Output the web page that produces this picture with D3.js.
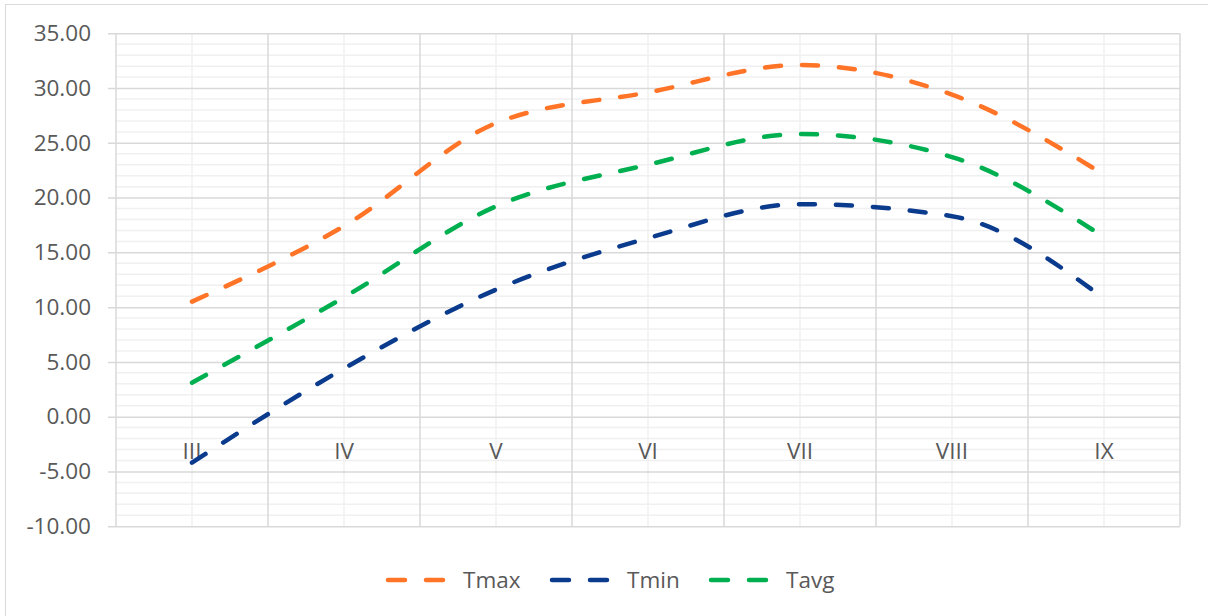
<!DOCTYPE html>
<html><head><meta charset="utf-8">
<script src="https://cdn.jsdelivr.net/npm/d3@7"></script>
<style>body{margin:0;background:#fff}svg{display:block}</style>
</head><body>
<svg id="c" width="1208" height="616"></svg>
<script>
const categories = ["III","IV","V","VI","VII","VIII","IX"];
const tmax = [10.5, 17.4, 26.8, 29.6, 32.1, 29.4, 22.1];
const tmin = [-4.2, 4.4, 11.6, 16.3, 19.4, 18.3, 10.8];
const tavg = [3.1, 10.9, 19.2, 23.0, 25.8, 23.7, 16.4];
const seriesNames = ["Tmax","Tmin","Tavg"];
const seriesColors = ["#FF7427","#0B3B8C","#00B050"];
const yTicks = [-10,-5,0,5,10,15,20,25,30,35];

const svg = d3.select("#c");
const font = "'Open Sans', sans-serif";
const fs = "22.5px";
const L = 116, R = 1180, T = 33.3, B = 526.2;

svg.append("rect").attr("x",5.5).attr("y",4.5).attr("width",1210).attr("height",620)
  .attr("fill","#fff").attr("stroke","#d9d9d9");

const x = d3.scaleBand().domain(categories).range([L,R]).padding(0);
const y = d3.scaleLinear().domain([-10,35]).range([B,T]);

const minor = d3.range(-10,36,1).filter(v=>v%5!==0);
svg.append("g").selectAll("line").data(minor).join("line")
  .attr("x1",L).attr("x2",R).attr("y1",d=>y(d)).attr("y2",d=>y(d))
  .attr("stroke","#f0f0f0").attr("stroke-width",1.5);
svg.append("g").selectAll("line").data(categories).join("line")
  .attr("x1",d=>x(d)+x.bandwidth()/2).attr("x2",d=>x(d)+x.bandwidth()/2)
  .attr("y1",T).attr("y2",B).attr("stroke","#f0f0f0").attr("stroke-width",1.5);
const bounds = categories.map(c=>x(c)).concat([R]);
svg.append("g").selectAll("line").data(bounds).join("line")
  .attr("x1",d=>d).attr("x2",d=>d).attr("y1",T).attr("y2",B)
  .attr("stroke","#d9d9d9").attr("stroke-width",1.5);
const fmt = d => d3.format(".2f")(d).replace("\u2212","-");
const yAxis = d3.axisLeft(y).tickValues(yTicks).tickFormat(fmt).tickSize(-(R-L));
const ga = svg.append("g").attr("transform",`translate(${L},0)`).call(yAxis);
ga.select(".domain").remove();
ga.selectAll(".tick line").attr("stroke","#d9d9d9").attr("stroke-width",1.5).attr("x1",-8);
ga.selectAll(".tick text").attr("fill","#595959").style("font-family",font).style("font-size",fs)
  .attr("x",-25);

svg.append("g").selectAll("text").data(categories).join("text")
  .attr("x",d=>x(d)+x.bandwidth()/2).attr("y",y(0)+42)
  .attr("text-anchor","middle").attr("fill","#595959")
  .style("font-family",font).style("font-size",fs).text(d=>d);

const data = [tmax,tmin,tavg];
const line = d3.line().x((d,i)=>x(categories[i])+x.bandwidth()/2).y(d=>y(d))
  .curve(d3.curveMonotoneX);
data.forEach((s,i)=>{
  svg.append("path").attr("d",line(s)).attr("fill","none")
    .attr("stroke",seriesColors[i]).attr("stroke-width",4.5)
    .attr("stroke-linecap","round").attr("stroke-dasharray","16,21");
});

const legX = [386, 550, 709];
const legY = 580;
seriesNames.forEach((n,i)=>{
  const g = svg.append("g");
  g.append("line").attr("x1",legX[i]+2).attr("x2",legX[i]+57).attr("y1",legY).attr("y2",legY)
    .attr("stroke",seriesColors[i]).attr("stroke-width",4.5).attr("stroke-linecap","round")
    .attr("stroke-dasharray","17,21");
  g.append("text").attr("x",legX[i]+77).attr("y",legY+8).attr("fill","#595959")
    .style("font-family",font).style("font-size",fs).text(n);
});
</script>
</body></html>
